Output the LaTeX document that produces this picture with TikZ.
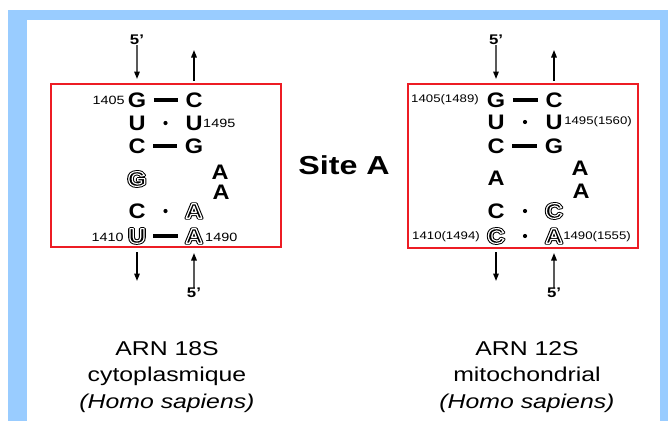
\documentclass[tikz,border=0pt]{standalone}
\usepackage{fontspec}
\setmainfont{Liberation Sans}
\usetikzlibrary{arrows.meta}

\definecolor{cadre}{RGB}{153,204,255}
\definecolor{boite}{RGB}{237,28,36}

% lettre creuse (contour noir, filet blanc, coeur noir)
\newcommand\creux[1]{\makebox[0pt][l]{\special{pdf:literal direct 2 Tr 3.0 w 1 j}#1\special{pdf:literal direct 0 Tr}}{\color{white}\special{pdf:literal direct 1 Tr 1.1 w 1 j}#1\special{pdf:literal direct 0 Tr}}}

\begin{document}
\begin{tikzpicture}[x=1pt,y=-1pt,
	base/.style={font=\bfseries\fontsize{21}{21}\selectfont,inner sep=0pt,xscale=1.12},
	num/.style={font=\fontsize{12}{12}\selectfont,inner sep=0pt,xscale=1.2},
	numm/.style={font=\fontsize{11}{11}\selectfont,inner sep=0pt,xscale=1.2},
	prime/.style={font=\bfseries\fontsize{14}{14}\selectfont,inner sep=0pt,xscale=1.2},
	legende/.style={font=\fontsize{20}{26.5}\selectfont,align=center,inner sep=0pt,xscale=1.24},
	fl/.style={line width=1.4pt,-{Triangle[length=7.5pt,width=5.5pt]}},
	paire/.style={line width=3.2pt,shorten <=7.5pt,shorten >=7.5pt},
	point/.style={circle,fill,inner sep=0pt,minimum size=4.2pt}]
			\useasboundingbox (0,0) rectangle (668,421);
			\fill[cadre] (8,10) rectangle (668,421);
			\fill[white] (27,20) rectangle (660,421);
			
			% ARN 18S
			\draw[boite,line width=1.6pt] (51,84) rectangle (281,247);
			\node[base] (cl1) at (137,100) {G};
			\node[base] (cr1) at (194,100) {C};
			\node[base] (cl2) at (137,123) {U};
			\node[base] (cr2) at (194,123) {U};
			\node[base] (cl3) at (137,146) {C};
			\node[base] (cr3) at (194,146) {G};
			\node[base] (cl4) at (137,179) {\creux{G}};
			\node[base] (cb1) at (220,172) {A};
			\node[base] (cb2) at (221,192) {A};
			\node[base] (cl5) at (137,211) {C};
			\node[base] (cr5) at (194,211) {\creux{A}};
			\node[base] (cl6) at (137,236) {\creux{U}};
			\node[base] (cr6) at (194,236) {\creux{A}};
			\draw[paire] (cl1) -- (cr1);
			\draw[paire] (cl3) -- (cr3);
			\draw[paire] (cl6) -- (cr6);
			\path (cl2) -- node[point]{} (cr2);
			\path (cl5) -- node[point]{} (cr5);
			\node[num, anchor=east] (cn1) at (125,100) {1405};
			\node[num, anchor=west] (cn2) at (203,123) {1495};
			\node[num, anchor=east] (cn3) at (124,237) {1410};
			\node[num, anchor=west] (cn4) at (205,237) {1490};
			
			\node[prime] (cp1) at (137,40) {5'};
			\coordinate (ca1) at (137,79);
			\draw[fl] (cp1) -- (ca1);
			\coordinate (ca2) at (194,81);
			\coordinate (ca3) at (194,50);
			\draw[fl] (ca2) -- (ca3);
			\coordinate (ca4) at (137,252);
			\coordinate (ca5) at (137,281);
			\draw[fl] (ca4) -- (ca5);
			\node[prime] (cp2) at (194,293) {5'};
			\coordinate (ca6) at (194,253);
			\draw[fl] (cp2) -- (ca6);
			
			% ARN 12S
			\draw[boite,line width=1.6pt] (408,84) rectangle (638,248);
			\node[base] (ml1) at (496,100) {G};
			\node[base] (mr1) at (554,100) {C};
			\node[base] (ml2) at (496,122) {U};
			\node[base] (mr2) at (554,122) {U};
			\node[base] (ml3) at (496,146) {C};
			\node[base] (mr3) at (554,146) {G};
			\node[base] (ml4) at (496,178) {A};
			\node[base] (mb1) at (580,168) {A};
			\node[base] (mb2) at (581,191) {A};
			\node[base] (ml5) at (496,211) {C};
			\node[base] (mr5) at (554,211) {\creux{C}};
			\node[base] (ml6) at (496,236) {\creux{C}};
			\node[base] (mr6) at (554,236) {\creux{A}};
			\draw[paire] (ml1) -- (mr1);
			\draw[paire] (ml3) -- (mr3);
			\path (ml2) -- node[point]{} (mr2);
			\path (ml5) -- node[point]{} (mr5);
			\path (ml6) -- node[point]{} (mr6);
			\node[numm, anchor=east] (mn1) at (479,100) {1405(1489)};
			\node[numm, anchor=west] (mn2) at (564,122) {1495(1560)};
			\node[numm, anchor=east] (mn3) at (480,237) {1410(1494)};
			\node[numm, anchor=west] (mn4) at (563,237) {1490(1555)};
			
			\node[prime] (mp1) at (496,40) {5'};
			\coordinate (ma1) at (496,79);
			\draw[fl] (mp1) -- (ma1);
			\coordinate (ma2) at (554,81);
			\coordinate (ma3) at (554,50);
			\draw[fl] (ma2) -- (ma3);
			\coordinate (ma4) at (496,252);
			\coordinate (ma5) at (496,281);
			\draw[fl] (ma4) -- (ma5);
			\node[prime] (mp2) at (554,293) {5'};
			\coordinate (ma6) at (554,253);
			\draw[fl] (mp2) -- (ma6);
			
			\node[font=\bfseries\fontsize{26}{26}\selectfont, xscale=1.24] (site) at (344,165) {Site A};
			\node[legende] (tc) at (167,377) {ARN 18S\\cytoplasmique\\\textit{(Homo sapiens)}};
			\node[legende] (tm) at (527,377) {ARN 12S\\mitochondrial\\\textit{(Homo sapiens)}};
\end{tikzpicture}
\end{document}
